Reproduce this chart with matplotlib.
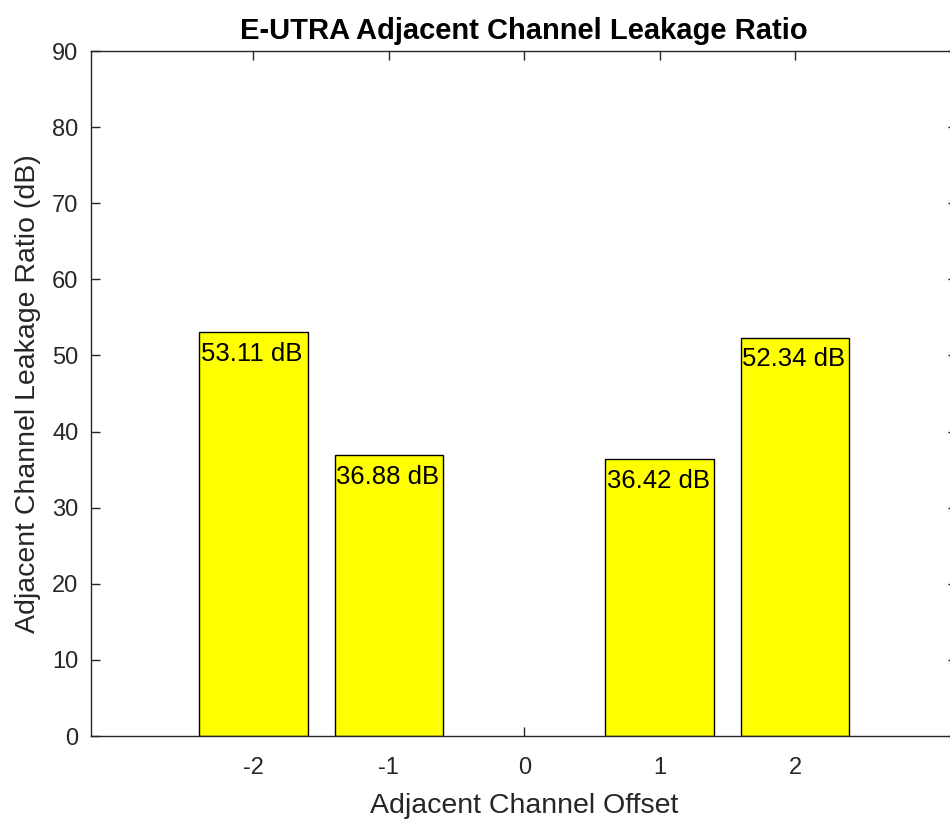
import matplotlib
matplotlib.use("Agg")
import matplotlib.pyplot as plt
import numpy as np

plt.rcParams['font.family'] = ['Liberation Sans', 'DejaVu Sans']
plt.rcParams['axes.unicode_minus'] = False

offsets = [-2, -1, 0, 1, 2]
aclr_db = [53.11, 36.88, 0.0, 36.42, 52.34]
labels = ['53.11 dB', '36.88 dB', '', '36.42 dB', '52.34 dB']
yticks = [0, 10, 20, 30, 40, 50, 60, 70, 80, 90]

axc = '#262626'
fig = plt.figure(figsize=(9.5, 8.23), dpi=100)
ax = fig.add_axes([0.0958, 0.1057, 0.912, 0.8323])

edge_w = [1.0 if v > 0 else 0.0 for v in aclr_db]
ax.bar(offsets, aclr_db, width=0.8, color='#ffff00', edgecolor='black', linewidth=edge_w, zorder=2)
for x, v, t in zip(offsets, aclr_db, labels):
    if t:
        ax.annotate(t, (x, v), xytext=(-1, -7), textcoords='offset points',
                    ha='center', va='top', fontsize=18.5, color='black', zorder=3)

ax.set_xlim(-3.2, 3.2)
ax.set_ylim(0, 90)
ax.set_xticks(offsets)
ax.set_yticks(yticks)
for s in ax.spines.values():
    s.set_color(axc)
    s.set_linewidth(1.0)
ax.tick_params(direction='in', length=6.5, width=1.0, color=axc, labelcolor=axc,
               labelsize=17, top=True, right=True, pad=9)
ax.tick_params(axis='x', pad=15)
ax.set_xlabel('Adjacent Channel Offset', fontsize=20.5, color=axc, labelpad=10)
ax.set_ylabel('Adjacent Channel Leakage Ratio (dB)', fontsize=20.5, color=axc, labelpad=8)
ax.set_title('E-UTRA Adjacent Channel Leakage Ratio', fontsize=21, fontweight='bold', color='black', pad=9)

fig.savefig('out.png', dpi=100)
